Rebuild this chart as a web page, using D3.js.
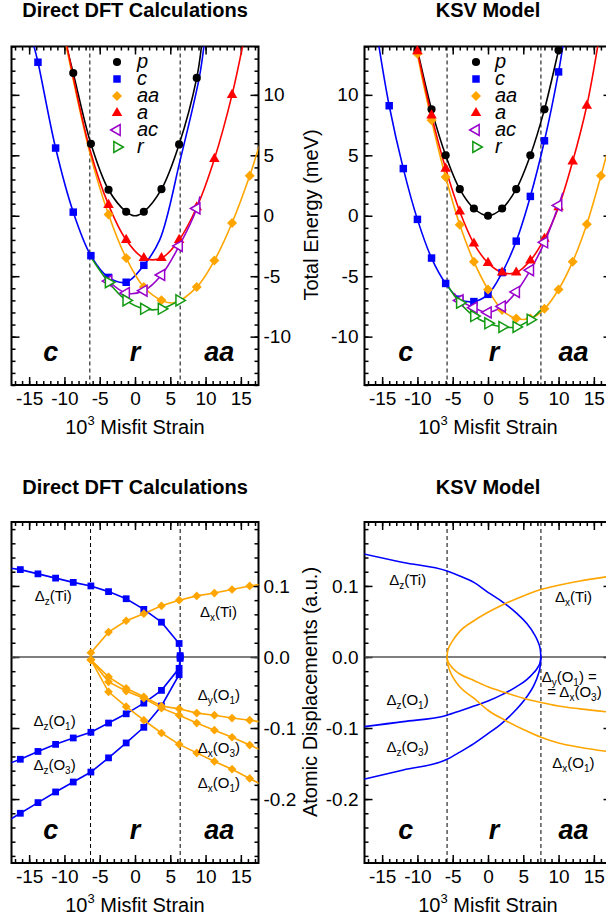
<!DOCTYPE html>
<html>
<head>
<meta charset="utf-8">
<script src="https://cdn.jsdelivr.net/npm/d3@7"></script>
<style>
body { margin: 0; background: #fff; }
svg text { font-family: "Liberation Sans", Arial, Helvetica, sans-serif; }
</style>
</head>
<body>
<svg width="606" height="921"></svg>
<script>
// ---- data ----
var xDomain = [-17.5, 17.5];
var xTicks = [-15, -10, -5, 0, 5, 10, 15];
var energyTicks = [-10, -5, 0, 5, 10];
var dispTicks = [-0.2, -0.1, 0.0, 0.1];
var legendNames = ["p", "c", "aa", "a", "ac", "r"];
var phaseNames = ["c", "r", "aa"];
var dftBounds = [-6.4, 6.4];
var ksvBounds = [-5.8, 7.5];

// direct DFT energies (meV), markers + extra points along the fitted curve
var dftP = [[-8.75, 11.8], [-6.25, 5.95], [-3.75, 2.15], [-1.25, 0.33], [1.25, 0.33], [3.75, 2.2], [6.25, 5.9], [8.75, 11.4]];
var dftPCurve = [[-9.8, 14.2], [0, 0], [9.45, 14.2]];
var dftC = [[-13.75, 12.7], [-11.25, 5.6], [-8.75, 0.3], [-6.25, -3.3], [-3.75, -5.1], [-1.25, -5.5], [1.25, -4.1]];
var dftCCurve = [[-14.4, 14.2], [3.5, -2.0], [6.4, 4.6], [9.1, 11.4], [9.8, 14.2]];
var dftAA = [[-3.75, 0.1], [-1.25, -3.5], [1.25, -5.9], [3.75, -7.0], [8.75, -5.9], [11.25, -3.7], [13.75, -0.6], [16.25, 3.3]];
var dftAACurve = [[-9.8, 14.2], [-6.4, 5.2], [5.5, -7.2], [17.6, 5.8]];
var dftA = [[-3.75, 0.9], [-1.25, -2.0], [1.25, -3.5], [3.75, -3.5], [6.25, -2.0], [8.75, 0.7], [11.25, 4.7], [13.75, 10.0]];
var dftACurve = [[-9.7, 14.2], [-6.4, 5.5], [15.3, 14.2]];
var dftAC = [[-3.75, -5.4], [-1.25, -6.4], [1.25, -6.2], [3.75, -4.9], [6.25, -2.5], [8.75, 0.6]];
var dftACCurve = [[-4.5, -4.9], [9.2, 1.6]];
var dftR = [[-3.75, -5.5], [-1.25, -7.0], [1.25, -7.7], [3.75, -7.7], [6.25, -7.0]];
var dftRCurve = [[-6.4, -3.3]];

// KSV model energies (meV)
var ksvP = [[-10, 13.7], [-8, 8.8], [-6, 5.0], [-4, 2.2], [-2, 0.6], [0, 0], [2, 0.6], [4, 2.2], [6, 5.0], [8, 8.8], [10, 13.7]];
var ksvPCurve = [[-10.25, 14.3], [10.25, 14.3]];
var ksvC = [[-14, 9.1], [-12, 3.9], [-10, -0.3], [-8, -3.5], [-6, -5.6], [-4, -6.9], [-2, -7.1], [0, -6.5], [2, -4.7], [4, -2.1], [6, 1.6], [8, 6.2], [10, 11.9]];
var ksvCCurve = [[-15.5, 14.2], [10.65, 14.2]];
var ksvAA = [[-10, 13.4], [-8, 7.9], [-6, 3.2], [-4, -0.75], [-2, -3.8], [0, -6.1], [2, -7.8], [4, -8.5], [6, -8.5], [8, -7.7], [10, -6.1], [12, -3.8], [14, -0.7], [16, 3.3]];
var ksvAACurve = [[-10.2, 14.2], [17.6, 6.8]];
var ksvA = [[-10, 13.6], [-8, 8.3], [-6, 3.9], [-4, 0.35], [-2, -2.3], [0, -3.9], [2, -4.7], [4, -4.7], [6, -3.7], [8, -1.9], [10, 0.7], [12, 4.5], [14, 9.1]];
var ksvACurve = [[-10.2, 14.2], [15.6, 14.2]];
var ksvAC = [[-4, -7.0], [-2, -7.6], [0, -8.0], [2, -7.5], [4, -6.3], [6, -4.5], [8, -2.2], [10, 0.85]];
var ksvACCurve = [[-4.8, -6.4], [10.6, 1.9]];
var ksvR = [[-4, -7.2], [-2, -8.3], [0, -8.9], [2, -9.2], [4, -9.2], [6, -8.6]];
var ksvRCurve = [[-5.8, -5.7], [7.5, -7.8]];

// direct DFT displacements (a.u.)
var dftDzTi = [[-16.25, 0.123], [-13.75, 0.117], [-11.25, 0.111], [-8.75, 0.105], [-6.25, 0.100], [-3.75, 0.092], [-1.25, 0.082], [1.25, 0.067], [3.75, 0.049], [6.25, 0.019], [6.4, 0.002]];
var dftDxTi = [[-6.25, 0.006], [-3.75, 0.035], [-1.25, 0.051], [1.25, 0.061], [3.75, 0.072], [6.25, 0.080], [8.75, 0.086], [11.25, 0.090], [13.75, 0.095], [16.25, 0.100]];
var dftDyO1 = [[-6.25, -0.004], [-3.75, -0.028], [-1.25, -0.044], [1.25, -0.056], [3.75, -0.069], [6.25, -0.073], [8.75, -0.079], [11.25, -0.082], [13.75, -0.086], [16.25, -0.089]];
var dftDxO3 = [[-6.25, -0.004], [-3.75, -0.035], [-1.25, -0.048], [1.25, -0.058], [3.75, -0.072], [6.25, -0.082], [8.75, -0.093], [11.25, -0.103], [13.75, -0.113], [16.25, -0.124]];
var dftDxO1 = [[-6.25, -0.004], [-3.75, -0.049], [-1.25, -0.070], [1.25, -0.089], [3.75, -0.107], [6.25, -0.123], [8.75, -0.135], [11.25, -0.147], [13.75, -0.158], [16.25, -0.171]];
var dftDzO1 = [[-16.25, -0.144], [-13.75, -0.133], [-11.25, -0.123], [-8.75, -0.114], [-6.25, -0.106], [-3.75, -0.093], [-1.25, -0.080], [1.25, -0.065], [3.75, -0.047], [6.25, -0.016], [6.4, -0.002]];
var dftDzO3 = [[-16.25, -0.220], [-13.75, -0.205], [-11.25, -0.190], [-8.75, -0.176], [-6.25, -0.162], [-3.75, -0.142], [-1.25, -0.121], [1.25, -0.099], [3.75, -0.069], [6.25, -0.025], [6.4, 0.0]];
// lines run on to the frame edge
var dftDzTiEdge = [[-17.6, 0.125]];
var dftDxTiEdge = [[17.6, 0.102]];
var dftDyO1Edge = [[17.6, -0.091]];
var dftDxO3Edge = [[17.6, -0.130]];
var dftDxO1Edge = [[17.6, -0.178]];
var dftDzO1Edge = [[-17.6, -0.149]];
var dftDzO3Edge = [[-17.6, -0.228]];

// KSV model displacements (a.u.)
var ksvDzTi = [[-17.6, 0.145], [-12, 0.133], [-5.8, 0.121], [-4, 0.114], [-2, 0.105], [0, 0.091], [2, 0.078], [4, 0.062], [5.5, 0.047], [6.5, 0.033], [7.1, 0.021], [7.4, 0.011], [7.5, 0]];
var ksvDxTi = [[-5.8, 0], [-5.75, 0.006], [-5.6, 0.012], [-5.3, 0.018], [-5, 0.023], [-4, 0.036], [-2, 0.051], [0, 0.063], [2.4, 0.075], [5, 0.086], [7.5, 0.095], [10, 0.101], [13, 0.107], [17.6, 0.114]];
var ksvDzO1 = [[-17.6, -0.098], [-12, -0.091], [-5.8, -0.082], [-4, -0.076], [-2, -0.069], [0, -0.062], [2, -0.053], [4, -0.042], [5.5, -0.032], [6.5, -0.022], [7.1, -0.014], [7.4, -0.007], [7.5, 0]];
var ksvDzO3 = [[-17.6, -0.172], [-12, -0.159], [-5.8, -0.144], [-4, -0.134], [-2, -0.122], [0, -0.108], [2, -0.093], [4, -0.074], [5.5, -0.056], [6.5, -0.040], [7.1, -0.025], [7.4, -0.0125], [7.5, 0]];
var ksvDyO1 = [[-5.8, 0], [-5.75, -0.004], [-5.6, -0.008], [-5.3, -0.012], [-5, -0.016], [-4, -0.024], [-2, -0.033], [0, -0.042], [2.4, -0.050], [5, -0.058], [7.5, -0.064], [10, -0.069], [13, -0.073], [17.6, -0.078]];
var ksvDxO1 = [[-5.8, 0], [-5.75, -0.007], [-5.6, -0.014], [-5.3, -0.022], [-5, -0.028], [-4, -0.042], [-2, -0.058], [0, -0.075], [2.4, -0.089], [5, -0.102], [7.5, -0.113], [10, -0.121], [13, -0.127], [17.6, -0.134]];

// text labels in data coordinates of their panel
var dftDispLabels = [["Δ_z(Ti)", -14.2, 0.079], ["Δ_x(Ti)", 9.2, 0.056], ["Δ_y(O_1)", 8.9, -0.061], ["Δ_z(O_1)", -14.4, -0.097], ["Δ_x(O_3)", 8.9, -0.135], ["Δ_z(O_3)", -14.4, -0.159], ["Δ_x(O_1)", 8.9, -0.185]];
var ksvDispLabels = [["Δ_z(Ti)", -14.0, 0.101], ["Δ_x(Ti)", 9.5, 0.077], ["Δ_y(O_1) =", 7.6, -0.035], ["= Δ_x(O_3)", 8.4, -0.056], ["Δ_z(O_1)", -14.4, -0.068], ["Δ_z(O_3)", -14.4, -0.134], ["Δ_x(O_1)", 9.1, -0.156]];

// ---- drawing ----
var svg = d3.select("svg");
var BLUE = "#0000ff", ORANGE = "#ffa500", RED = "#ff0000", PURPLE = "#9900cc", GREEN = "#119911", BLACK = "#000";
var clipCount = 0;

function makePanel(box, yDomain, yMajor, yMinorStep, labelSide, fmt) {
	var x = d3.scaleLinear().domain(xDomain).range([box.left, box.right]);
	var y = d3.scaleLinear().domain(yDomain).range([box.bottom, box.top]);
	var id = "clip" + (clipCount++);
	svg.append("clipPath").attr("id", id).append("rect")
		.attr("x", box.left).attr("y", box.top)
		.attr("width", box.right - box.left).attr("height", box.bottom - box.top);

	var g = svg.append("g");
	var xMinor = d3.range(-17, 18, 1);
	var yMinor = d3.range(Math.ceil(yDomain[0] / yMinorStep), Math.floor(yDomain[1] / yMinorStep) + 1).map(function (k) { return k * yMinorStep; });

	function put(axis, tx, ty) {
		var a = g.append("g").attr("transform", "translate(" + tx + "," + ty + ")").call(axis);
		a.select(".domain").remove();
		a.selectAll("line").attr("stroke-width", 1.5);
		a.selectAll("text").attr("font-size", 19).attr("font-family", null);
		return a;
	}
	put(d3.axisBottom(x).tickValues(xMinor).tickSize(-4).tickFormat(""), 0, box.bottom);
	put(d3.axisBottom(x).tickValues(xTicks).tickSize(-8).tickPadding(7).tickFormat(function (d) { return String(d); }), 0, box.bottom);
	put(d3.axisTop(x).tickValues(xMinor).tickSize(-4).tickFormat(""), 0, box.top);
	put(d3.axisTop(x).tickValues(xTicks).tickSize(-8).tickFormat(""), 0, box.top);
	put(d3.axisLeft(y).tickValues(yMinor).tickSize(-4).tickFormat(""), box.left, 0);
	put(d3.axisRight(y).tickValues(yMinor).tickSize(-4).tickFormat(""), box.right, 0);
	put(d3.axisLeft(y).tickValues(yMajor).tickSize(-8).tickPadding(6).tickFormat(labelSide == "left" ? fmt : ""), box.left, 0);
	put(d3.axisRight(y).tickValues(yMajor).tickSize(-8).tickPadding(5).tickFormat(labelSide == "right" ? fmt : ""), box.right, 0);

	g.append("rect").attr("x", box.left).attr("y", box.top)
		.attr("width", box.right - box.left).attr("height", box.bottom - box.top)
		.attr("fill", "none").attr("stroke", "#000").attr("stroke-width", 2);

	var plot = svg.append("g").attr("clip-path", "url(#" + id + ")");
	return { x: x, y: y, box: box, plot: plot, top: svg.append("g") };
}

function bounds(p, b) {
	p.plot.selectAll(".bound").data(b).join("line")
		.attr("x1", function (d) { return p.x(d); }).attr("x2", function (d) { return p.x(d); })
		.attr("y1", p.box.top).attr("y2", p.box.bottom)
		.attr("stroke", "#000").attr("stroke-width", 1).attr("stroke-dasharray", "4,3");
}

function phaseLabels(p, b) {
	var lo = p.x.invert(p.box.left), hi = p.x.invert(Math.min(p.box.right, 606));
	var centres = [(lo + b[0]) / 2, (b[0] + b[1]) / 2, (b[1] + hi) / 2];
	p.top.selectAll(".phase").data(phaseNames).join("text")
		.attr("x", function (d, i) { return p.x(centres[i]); })
		.attr("y", p.box.bottom - 24)
		.attr("text-anchor", "middle").attr("font-size", 27)
		.attr("font-weight", "bold").attr("font-style", "italic")
		.text(function (d) { return d; });
}

function byX(a, b) { return a[0] - b[0]; }

function smooth(p, pts, extra, color, width) {
	var all = pts.concat(extra).sort(byX);
	p.plot.append("path").datum(all)
		.attr("d", d3.line().x(function (d) { return p.x(d[0]); }).y(function (d) { return p.y(d[1]); }).curve(d3.curveCatmullRom.alpha(0.5)))
		.attr("fill", "none").attr("stroke", color).attr("stroke-width", width || 1.6);
}

function poly(p, pts, extra, color, curve) {
	var all = pts.concat(extra).sort(byX);
	p.plot.append("path").datum(all)
		.attr("d", d3.line().x(function (d) { return p.x(d[0]); }).y(function (d) { return p.y(d[1]); }).curve(curve || d3.curveLinear))
		.attr("fill", "none").attr("stroke", color).attr("stroke-width", 1.6);
}

var shapes = {
	p: { type: d3.symbolCircle, size: 52, rot: 0, open: false, color: BLACK },
	c: { type: d3.symbolSquare, size: 56, rot: 0, open: false, color: BLUE },
	aa: { type: d3.symbolSquare, size: 50, rot: 45, open: false, color: ORANGE },
	a: { type: d3.symbolTriangle, size: 48, rot: 0, open: false, color: RED },
	ac: { type: d3.symbolTriangle, size: 52, rot: -90, open: true, color: PURPLE },
	r: { type: d3.symbolTriangle, size: 52, rot: 90, open: true, color: GREEN }
};

function markers(p, pts, key, size) {
	var s = shapes[key];
	p.top.append("g").selectAll("path").data(pts).join("path")
		.attr("transform", function (d) { return "translate(" + p.x(d[0]) + "," + p.y(d[1]) + ") rotate(" + s.rot + ")"; })
		.attr("d", d3.symbol(s.type, size || s.size)())
		.attr("fill", s.open ? "#fff" : s.color)
		.attr("stroke", s.open ? s.color : "none").attr("stroke-width", 1.5);
}

function legend(p, mx, tx) {
	legendNames.forEach(function (name, i) {
		var s = shapes[name], yy = 62 + i * 17;
		p.top.append("path")
			.attr("transform", "translate(" + mx + "," + yy + ") rotate(" + s.rot + ")")
			.attr("d", d3.symbol(s.type, s.size)())
			.attr("fill", s.open ? "#fff" : s.color)
			.attr("stroke", s.open ? s.color : "none").attr("stroke-width", 1.5);
		p.top.append("text").attr("x", tx).attr("y", yy + 6)
			.attr("font-size", 20).attr("font-style", "italic").text(name);
	});
}

function title(p, text, yy) {
	svg.append("text").attr("x", (p.box.left + p.box.right) / 2).attr("y", yy)
		.attr("text-anchor", "middle").attr("font-size", 20).attr("font-weight", "bold").text(text);
}

function xLabel(p, yy) {
	var t = svg.append("text").attr("x", (p.box.left + p.box.right) / 2).attr("y", yy)
		.attr("text-anchor", "middle").attr("font-size", 20);
	t.append("tspan").text("10");
	t.append("tspan").attr("font-size", 13).attr("dy", -9).text("3");
	t.append("tspan").attr("dy", 9).text(" Misfit Strain");
}

function yLabel(xx, yy, text) {
	svg.append("text").attr("transform", "translate(" + xx + "," + yy + ") rotate(-90)")
		.attr("text-anchor", "middle").attr("font-size", 20).text(text);
}

function subLabel(p, item) {
	var t = p.top.append("text").attr("x", p.x(item[1])).attr("y", p.y(item[2])).attr("font-size", 15);
	var parts = item[0].split("_");
	t.append("tspan").text(parts[0]);
	for (var i = 1; i < parts.length; i++) {
		t.append("tspan").attr("font-size", 10).attr("dy", 4).text(parts[i].charAt(0));
		t.append("tspan").attr("dy", -4).text(parts[i].slice(1));
	}
}

function zeroLine(p) {
	p.plot.append("line").attr("x1", p.box.left).attr("x2", p.box.right)
		.attr("y1", p.y(0)).attr("y2", p.y(0))
		.attr("stroke", "#555").attr("stroke-width", 1.5);
}

var energyFmt = function (d) { return String(d); };
var dispFmt = function (d) { return d.toFixed(1); };

// top left: direct DFT energies
var tl = makePanel({ left: 11.5, right: 258.5, top: 46.5, bottom: 385 }, [-14, 14], energyTicks, 1, "right", energyFmt);
bounds(tl, dftBounds);
smooth(tl, dftP, dftPCurve, BLACK);
smooth(tl, dftC, dftCCurve, BLUE);
smooth(tl, dftAA, dftAACurve, ORANGE);
smooth(tl, dftA, dftACurve, RED);
smooth(tl, dftAC, dftACCurve, PURPLE);
smooth(tl, dftR, dftRCurve, GREEN);
markers(tl, dftP, "p");
markers(tl, dftC, "c");
markers(tl, dftAA, "aa");
markers(tl, dftA, "a");
markers(tl, dftAC, "ac");
markers(tl, dftR, "r");
legend(tl, 117, 137);
phaseLabels(tl, dftBounds);
title(tl, "Direct DFT Calculations", 17);
xLabel(tl, 434);

// top right: KSV energies
var tr = makePanel({ left: 364.5, right: 611.5, top: 46.5, bottom: 385 }, [-14, 14], energyTicks, 1, "left", energyFmt);
bounds(tr, ksvBounds);
smooth(tr, ksvP, ksvPCurve, BLACK);
smooth(tr, ksvC, ksvCCurve, BLUE);
smooth(tr, ksvAA, ksvAACurve, ORANGE);
smooth(tr, ksvA, ksvACurve, RED);
smooth(tr, ksvAC, ksvACCurve, PURPLE);
smooth(tr, ksvR, ksvRCurve, GREEN);
markers(tr, ksvP, "p");
markers(tr, ksvC, "c");
markers(tr, ksvAA, "aa");
markers(tr, ksvA, "a");
markers(tr, ksvAC, "ac");
markers(tr, ksvR, "r");
legend(tr, 476, 495);
phaseLabels(tr, ksvBounds);
title(tr, "KSV Model", 17);
xLabel(tr, 434);
yLabel(318, 215, "Total Energy (meV)");

// bottom left: direct DFT displacements
var bl = makePanel({ left: 11.5, right: 258.5, top: 522, bottom: 863 }, [-0.29, 0.19], dispTicks, 0.02, "right", dispFmt);
bounds(bl, [-6.3, 6.4]);
zeroLine(bl);
poly(bl, dftDzTi, dftDzTiEdge, BLUE);
poly(bl, dftDzO1, dftDzO1Edge, BLUE);
poly(bl, dftDzO3, dftDzO3Edge, BLUE);
poly(bl, dftDxTi, dftDxTiEdge, ORANGE);
poly(bl, dftDyO1, dftDyO1Edge, ORANGE);
poly(bl, dftDxO3, dftDxO3Edge, ORANGE);
poly(bl, dftDxO1, dftDxO1Edge, ORANGE);
[dftDzTi, dftDzO1, dftDzO3].forEach(function (s) { markers(bl, s, "c", 46); });
[dftDxTi, dftDyO1, dftDxO3, dftDxO1].forEach(function (s) { markers(bl, s, "aa", 38); });
dftDispLabels.forEach(function (d) { subLabel(bl, d); });
phaseLabels(bl, dftBounds);
title(bl, "Direct DFT Calculations", 494);
xLabel(bl, 912);

// bottom right: KSV displacements
var br = makePanel({ left: 364.5, right: 611.5, top: 522, bottom: 863 }, [-0.29, 0.19], dispTicks, 0.02, "left", dispFmt);
bounds(br, ksvBounds);
zeroLine(br);
poly(br, ksvDzTi, [], BLUE, d3.curveMonotoneX);
poly(br, ksvDzO1, [], BLUE, d3.curveMonotoneX);
poly(br, ksvDzO3, [], BLUE, d3.curveMonotoneX);
poly(br, ksvDxTi, [], ORANGE, d3.curveMonotoneX);
poly(br, ksvDyO1, [], ORANGE, d3.curveMonotoneX);
poly(br, ksvDxO1, [], ORANGE, d3.curveMonotoneX);
ksvDispLabels.forEach(function (d) { subLabel(br, d); });
phaseLabels(br, ksvBounds);
title(br, "KSV Model", 494);
xLabel(br, 912);
yLabel(317, 692, "Atomic Displacements (a.u.)");
</script>
</body>
</html>
